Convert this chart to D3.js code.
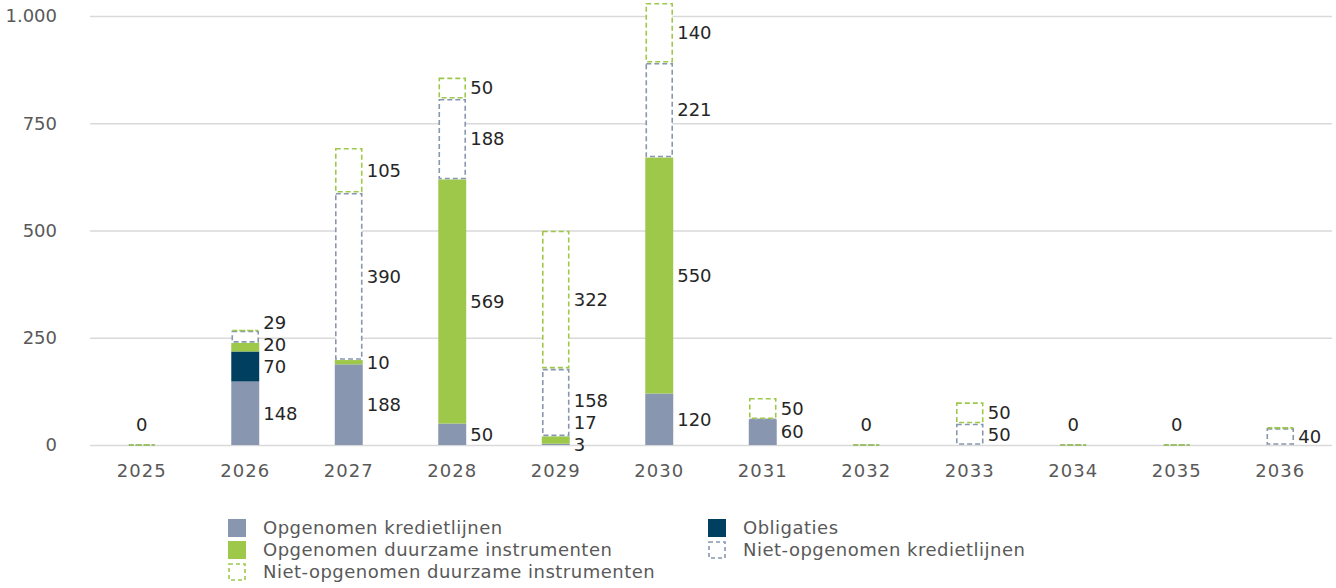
<!DOCTYPE html>
<html>
<head>
<meta charset="utf-8">
<script src="https://cdn.jsdelivr.net/npm/d3@7"></script>
<style>
  html, body { margin: 0; padding: 0; background: #ffffff; }
  svg { display: block; font-family: "DejaVu Sans", "Open Sans", sans-serif; }
</style>
</head>
<body>
<svg id="chart" width="1336" height="588"></svg>
<script>
// Looptijdprofiel financiering (in miljoenen)
const years = ["2025", "2026", "2027", "2028", "2029", "2030", "2031", "2032", "2033", "2034", "2035", "2036"];
const opgenomenKrediet = [0, 148, 188, 50, 3, 120, 60, 0, 0, 0, 0, 0];
const obligaties = [0, 70, 0, 0, 0, 0, 0, 0, 0, 0, 0, 0];
const opgenomenDuurzaam = [0, 20, 10, 569, 17, 550, 0, 0, 0, 0, 0, 0];
const nietOpgenomenKrediet = [0, 29, 390, 188, 158, 221, 0, 0, 50, 0, 0, 40];
const nietOpgenomenDuurzaam = [0, 0, 105, 50, 322, 140, 50, 0, 50, 0, 0, 0];
const yTicks = [0, 250, 500, 750, 1000];

const series = [
  { name: "Opgenomen kredietlijnen", values: opgenomenKrediet, fill: "#8896af", dashed: false },
  { name: "Obligaties", values: obligaties, fill: "#003f5f", dashed: false },
  { name: "Opgenomen duurzame instrumenten", values: opgenomenDuurzaam, fill: "#9dc84a", dashed: false },
  { name: "Niet-opgenomen kredietlijnen", values: nietOpgenomenKrediet, stroke: "#8896af", dashed: true },
  { name: "Niet-opgenomen duurzame instrumenten", values: nietOpgenomenDuurzaam, stroke: "#9dc84a", dashed: true }
];

const nl = d3.formatLocale({ decimal: ",", thousands: ".", grouping: [3], currency: ["€ ", ""] });
const fmt = nl.format(",d");

const svg = d3.select("#chart");
const plot = { left: 90, right: 1332, top: 16, bottom: 445 };

const x = d3.scaleBand().domain(years).range([plot.left, plot.right]).padding(0);
const y = d3.scaleLinear().domain([0, 1000]).range([plot.bottom, plot.top]);
const barW = x.bandwidth() * 0.27;

// gridlines and value axis
const yAxis = d3.axisLeft(y).tickValues(yTicks).tickFormat(fmt).tickSize(-(plot.right - plot.left)).tickPadding(33);
const gy = svg.append("g").attr("transform", `translate(${plot.left},0)`).call(yAxis);
gy.select(".domain").remove();
gy.selectAll(".tick line").attr("stroke", "#d9d9d9").attr("stroke-width", 1.3);
gy.selectAll(".tick text").attr("fill", "#595959").style("font-size", "18px").attr("font-family", "DejaVu Sans");

// category axis
const xAxis = d3.axisBottom(x).tickSize(0).tickPadding(19);
const gx = svg.append("g").attr("transform", `translate(0,${plot.bottom})`).call(xAxis);
gx.select(".domain").remove();
gx.selectAll(".tick text").attr("fill", "#595959").style("font-size", "18px")
  .style("letter-spacing", "1px").attr("font-family", "DejaVu Sans");

// stack the series
const rows = years.map((yr, i) => {
  const r = { year: yr };
  series.forEach(s => { r[s.name] = s.values[i]; });
  return r;
});
const stacked = d3.stack().keys(series.map(s => s.name))(rows);

const bars = svg.append("g");
stacked.forEach((layer, si) => {
  const s = series[si];
  layer.forEach((seg, i) => {
    const cx = x(years[i]) + x.bandwidth() / 2;
    const x0 = cx - barW / 2;
    const yTop = y(seg[1]);
    const yBot = y(seg[0]);
    const has = seg[1] - seg[0] > 0;
    if (!s.dashed) {
      if (has) {
        bars.append("rect")
          .attr("x", x0).attr("y", yTop)
          .attr("width", barW).attr("height", yBot - yTop)
          .attr("fill", s.fill);
      }
    } else {
      const inset = 1;
      const t = has ? yTop + inset : yTop;
      const b = has ? yBot - inset : yBot;
      const p = d3.path();
      p.moveTo(x0 + inset, t);
      p.lineTo(x0 + barW - inset, t);
      p.lineTo(x0 + barW - inset, b);
      p.lineTo(x0 + inset, b);
      p.closePath();
      bars.append("path")
        .attr("d", p.toString())
        .attr("fill", has ? "#ffffff" : "none")
        .attr("stroke", s.stroke)
        .attr("stroke-width", 1.6)
        .attr("stroke-dasharray", "5,3");
    }
  });
});

// value labels
const labels = svg.append("g").style("font-size", "18px").attr("fill", "#262626");
years.forEach((yr, i) => {
  const cx = x(yr) + x.bandwidth() / 2;
  const total = d3.sum(series, s => s.values[i]);
  if (total === 0) {
    labels.append("text")
      .attr("x", cx).attr("y", y(0) - 14)
      .attr("text-anchor", "middle")
      .text(fmt(0));
    return;
  }
  const items = [];
  stacked.forEach(layer => {
    const seg = layer[i];
    const v = seg[1] - seg[0];
    if (v > 0) items.push({ v, ty: y((seg[0] + seg[1]) / 2) });
  });
  // keep neighbouring labels apart, working upward from the base
  const gap = 22;
  items.sort((a, b) => b.ty - a.ty);
  for (let k = 1; k < items.length; k++) {
    if (items[k - 1].ty - items[k].ty < gap) items[k].ty = items[k - 1].ty - gap;
  }
  items.forEach(it => {
    labels.append("text")
      .attr("x", cx + barW / 2 + 4)
      .attr("y", it.ty)
      .attr("dy", "0.35em")
      .text(fmt(it.v));
  });
});

// legend
const legendItems = [
  { s: series[0], col: 0, row: 0 },
  { s: series[1], col: 1, row: 0 },
  { s: series[2], col: 0, row: 1 },
  { s: series[3], col: 1, row: 1 },
  { s: series[4], col: 0, row: 2 }
];
const legend = svg.append("g").style("font-size", "18px").style("letter-spacing", "0.5px");
const colX = [228, 708];
const rowY = [528, 550, 572];
legendItems.forEach(it => {
  const lx = colX[it.col];
  const ly = rowY[it.row];
  if (!it.s.dashed) {
    legend.append("rect").attr("x", lx).attr("y", ly - 9).attr("width", 18).attr("height", 18).attr("fill", it.s.fill);
  } else {
    legend.append("rect").attr("x", lx + 1).attr("y", ly - 8).attr("width", 16).attr("height", 16)
      .attr("fill", "none").attr("stroke", it.s.stroke).attr("stroke-width", 1.6).attr("stroke-dasharray", "4,3");
  }
  legend.append("text").attr("x", lx + 35).attr("y", ly).attr("dy", "0.35em")
    .attr("fill", "#595959").text(it.s.name);
});
</script>
</body>
</html>
